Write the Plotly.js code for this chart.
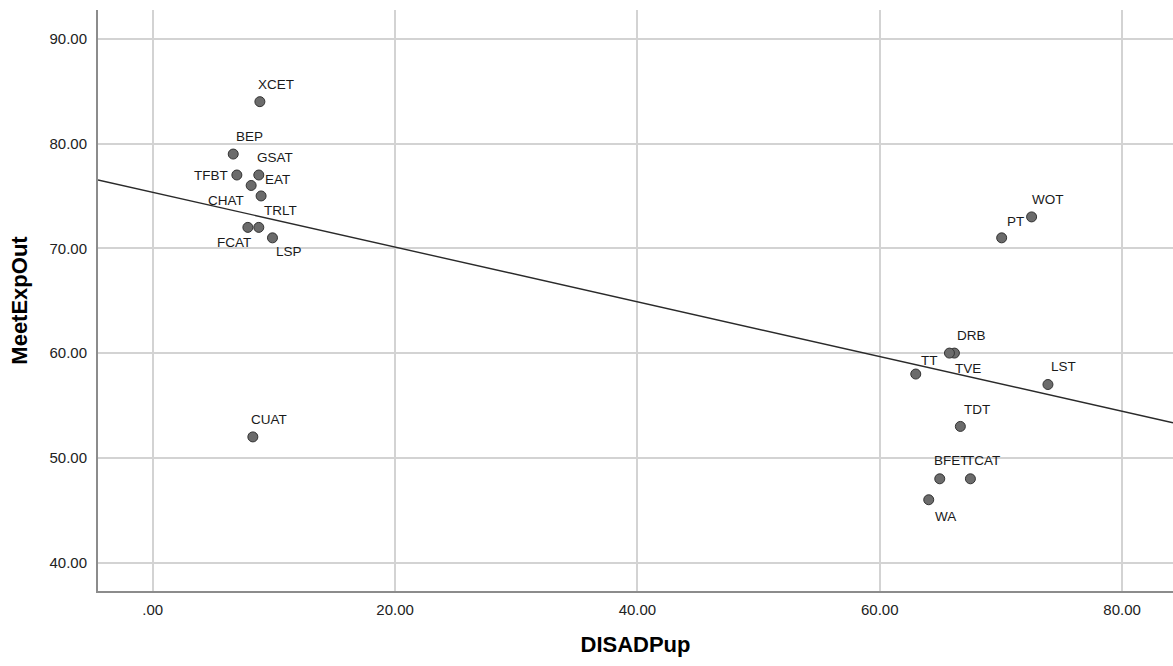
<!DOCTYPE html>
<html>
<head>
<meta charset="utf-8">
<script src="https://cdn.plot.ly/plotly-3.0.1.min.js"></script>
<style>
html,body{margin:0;padding:0;background:#fff;}
#chart{width:1173px;height:666px;}
</style>
</head>
<body>
<div id="chart"></div>
<script>
// Data
const names = ['XCET','BEP','TFBT','GSAT','CHAT','EAT','TRLT','FCAT','LSP','CUAT',
               'WOT','PT','DRB','TVE','TT','LST','TDT','BFET','TCAT','WA'];
const disadPup = [8.84, 6.64, 6.94, 8.75, 8.12, 8.94, 8.75, 7.85, 9.88, 8.26,
                  72.53, 70.06, 66.16, 65.75, 62.97, 73.88, 66.65, 64.95, 67.48, 64.04];
const meetExpOut = [84, 79, 77, 77, 76, 75, 72, 72, 71, 52,
                    73, 71, 60, 60, 58, 57, 53, 48, 48, 46];
const xTickVals = [0, 20, 40, 60, 80];
const xTickText = ['.00', '20.00', '40.00', '60.00', '80.00'];
const yTickVals = [40, 50, 60, 70, 80, 90];
const yTickText = ['40.00', '50.00', '60.00', '70.00', '80.00', '90.00'];

// label offsets (pixels, right / down) – styling only
const labelDx = [16, 16, 0, 16, -25, 16, 22, -14, 17, 16,
                 16, 14, 17, 19, 14, 16, 17, 12, 13, 17];
const labelDy = [-17, -18, 0, -18, 15, -16, -17, 15, 14, -17,
                 -17, -16, -18, 15, -14, -18, -17, -18, -18, 17];
const labelAnchor = ['center','center','right','center','center','center','center','center','center','center',
                     'center','center','center','center','center','center','center','center','center','center'];

const xRange = [-4.52, 84.2];
const yRange = [37.29, 92.75];

// least squares fit line
const n = disadPup.length;
let sx = 0, sy = 0, sxx = 0, sxy = 0;
for (let i = 0; i < n; i++) {
  sx += disadPup[i]; sy += meetExpOut[i];
  sxx += disadPup[i] * disadPup[i]; sxy += disadPup[i] * meetExpOut[i];
}
const slope = (n * sxy - sx * sy) / (n * sxx - sx * sx);
const intercept = (sy - slope * sx) / n;
const fitX = xRange.slice();
const fitY = fitX.map(v => intercept + slope * v);

const fontFam = '"Liberation Sans", Arial, sans-serif';

const traces = [
  {
    x: fitX, y: fitY, mode: 'lines', type: 'scatter',
    line: {color: '#2a2a2a', width: 1.4},
    hoverinfo: 'skip', showlegend: false
  },
  {
    x: disadPup, y: meetExpOut, mode: 'markers', type: 'scatter',
    text: names,
    marker: {size: 10, color: '#6b6b6b', line: {color: '#333333', width: 1}},
    showlegend: false
  }
];

const annotations = names.map((nm, i) => ({
  x: disadPup[i], y: meetExpOut[i], xref: 'x', yref: 'y',
  text: nm, showarrow: false,
  xanchor: labelAnchor[i], yanchor: 'middle',
  xshift: labelAnchor[i] === 'right' ? -7 : labelDx[i],
  yshift: -labelDy[i],
  font: {family: fontFam, size: 13.5, color: '#1a1a1a'}
}));

const layout = {
  width: 1173, height: 666,
  paper_bgcolor: '#ffffff', plot_bgcolor: '#ffffff',
  margin: {l: 98, r: 0, t: 10, b: 75, pad: 0},
  showlegend: false,
  font: {family: fontFam, color: '#222222'},
  xaxis: {
    range: xRange, tickvals: xTickVals, ticktext: xTickText,
    showgrid: true, gridcolor: '#d3d3d3', gridwidth: 2,
    zeroline: false, showline: true, linecolor: '#8c8c8c', linewidth: 2,
    ticks: '', tickfont: {family: fontFam, size: 15, color: '#222222'},
    ticklabelstandoff: 4,
    title: {text: 'DISADPup', font: {family: fontFam, size: 22, color: '#000000', weight: 'bold'}, standoff: 20}
  },
  yaxis: {
    range: yRange, tickvals: yTickVals, ticktext: yTickText,
    showgrid: true, gridcolor: '#d3d3d3', gridwidth: 2,
    zeroline: false, showline: true, linecolor: '#8c8c8c', linewidth: 2,
    ticks: '', tickfont: {family: fontFam, size: 15, color: '#222222'},
    ticklabelstandoff: 6,
    title: {text: 'MeetExpOut', font: {family: fontFam, size: 22, color: '#000000', weight: 'bold'}, standoff: 16}
  },
  annotations: annotations
};

Plotly.newPlot('chart', traces, layout, {displayModeBar: false, staticPlot: true});
</script>
</body>
</html>
